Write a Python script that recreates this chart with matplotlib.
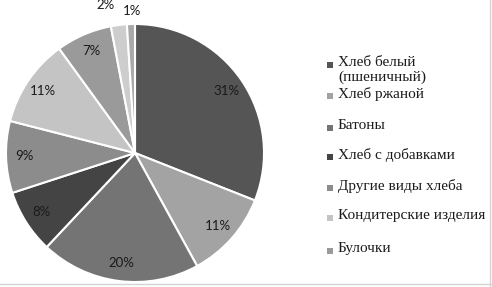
import numpy as np
from matplotlib import pyplot as plt
from matplotlib.patches import Rectangle
from matplotlib.lines import Line2D
from matplotlib import font_manager

categories = ['Хлеб белый\n(пшеничный)', 'Хлеб ржаной', 'Батоны', 'Хлеб с добавками',
              'Другие виды хлеба', 'Кондитерские изделия', 'Булочки']
values = [31, 11, 20, 8, 9, 11, 7, 2, 1]
colors = ['#555555', '#a3a3a3', '#747474', '#444444', '#8c8c8c',
          '#c4c4c4', '#9a9a9a', '#cdcdcd', '#a9a9a9']

W, H = 492, 287
fig = plt.figure(figsize=(W / 100, H / 100), dpi=100)

# pie centre (135, 153) px from top-left, radius 129 px
R, cx, cy = 129, 135, 153
ax = fig.add_axes([(cx - R) / W, (H - cy - R) / H, 2 * R / W, 2 * R / H])

wedges, texts, autotexts = ax.pie(values, colors=colors, startangle=90, counterclock=False,
                                  autopct='%1.0f%%', pctdistance=0.86,
                                  wedgeprops=dict(edgecolor='white', linewidth=1.5),
                                  textprops=dict(family='Lato', fontsize=9.5, color='#1a1a1a'))
ax.set_xlim(-1, 1)
ax.set_ylim(-1, 1)
ax.set_aspect('equal')
ax.axis('off')

# small slices get their labels outside
for w, t, r, dx in zip(wedges[-2:], autotexts[-2:], [1.16, 1.1], [-0.08, 0.01]):
    a = np.deg2rad((w.theta1 + w.theta2) / 2)
    t.set_position((r * np.cos(a) + dx, r * np.sin(a)))

serif = font_manager.FontProperties(family=['Liberation Serif', 'DejaVu Serif'], size=11)
print(font_manager.findfont(serif))

# legend like in Excel, first label wraps over the next one
rows = [65, 96, 128, 157, 188, 218, 251]
for w, name, y in zip(wedges, categories, rows):
    fig.add_artist(Rectangle((327 / W, (H - y - 3) / H), 6 / W, 6 / H,
                             facecolor=w.get_facecolor(), edgecolor='none'))
    fig.text(338 / W, (H - y + 9) / H, name, fontproperties=serif,
             color='#1a1a1a', va='top', ha='left', linespacing=1.15)

fig.add_artist(Line2D([490 / W, 490 / W], [0, 1], color='#d4d4d4', lw=1))
fig.add_artist(Line2D([0, 1], [3 / H, 3 / H], color='#d4d4d4', lw=1))

fig.savefig('out.png', dpi=100)
